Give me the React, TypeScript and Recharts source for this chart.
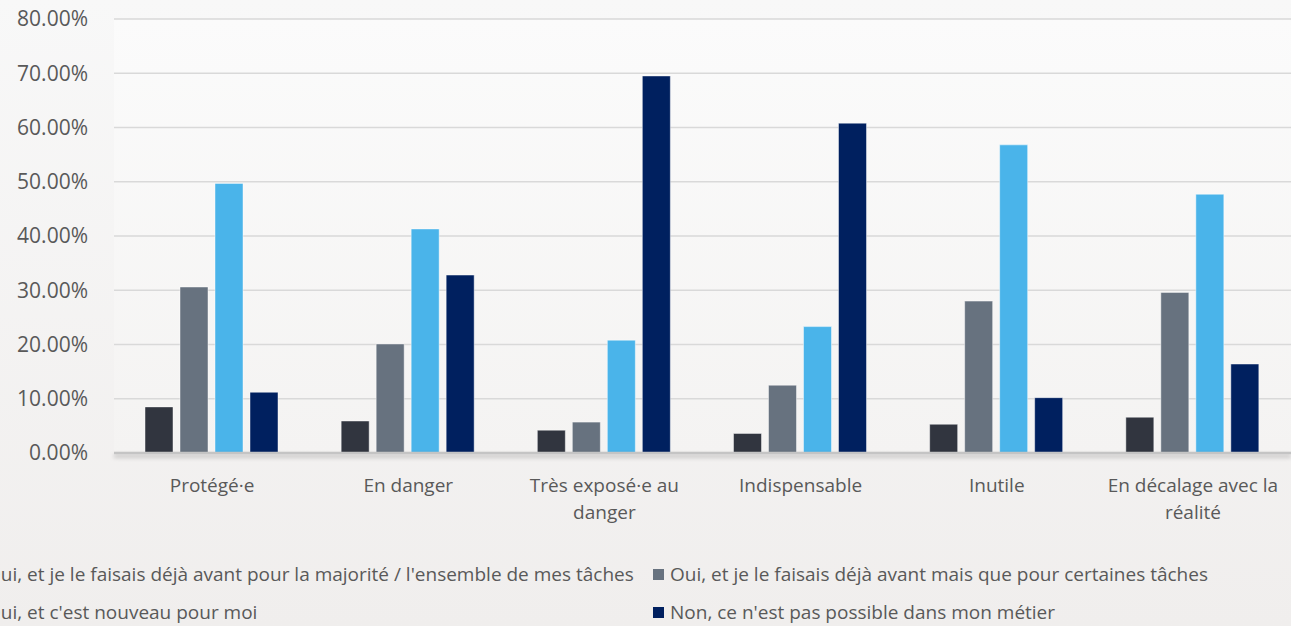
import { BarChart, Bar, XAxis, YAxis, CartesianGrid } from "recharts";

const categories = [
  "Protégé·e",
  "En danger",
  "Très exposé·e au danger",
  "Indispensable",
  "Inutile",
  "En décalage avec la réalité",
];

// libellés de l'axe, coupés comme sur l'original
const categoryLines: Record<string, string[]> = {
  "Très exposé·e au danger": ["Très exposé·e au", "danger"],
  "En décalage avec la réalité": ["En décalage avec la", "réalité"],
};

// valeurs en %
const majorite = [8.5, 5.9, 4.2, 3.6, 5.3, 6.6];
const certaines = [30.6, 20.1, 5.7, 12.5, 28.0, 29.6];
const nouveau = [49.7, 41.3, 20.8, 23.3, 56.8, 47.7];
const impossible = [11.2, 32.8, 69.5, 60.8, 10.2, 16.4];

const yTicks = [0, 10, 20, 30, 40, 50, 60, 70, 80];

const series = [
  { key: "majorite", name: "Oui, et je le faisais déjà avant pour la majorité / l'ensemble de mes tâches", color: "#31353f" },
  { key: "certaines", name: "Oui, et je le faisais déjà avant mais que pour certaines tâches", color: "#67727f" },
  { key: "nouveau", name: "Oui, et c'est nouveau pour moi", color: "#4ab4ea" },
  { key: "impossible", name: "Non, ce n'est pas possible dans mon métier", color: "#00205f" },
];

const data = categories.map((name, i) => ({
  name,
  majorite: majorite[i],
  certaines: certaines[i],
  nouveau: nouveau[i],
  impossible: impossible[i],
}));

const FONT = "'Open Sans', 'Noto Sans', sans-serif";

function CategoryTick(props: any) {
  const { x, y, payload } = props;
  const lines = categoryLines[payload.value] || [payload.value];
  return (
    <text
      x={x}
      y={y + 39}
      textAnchor="middle"
      fill="#595959"
      fontSize={19}
      fontFamily={FONT}
    >
      {lines.map((l, i) => (
        <tspan key={i} x={x} dy={i === 0 ? 0 : 27}>
          {l}
        </tspan>
      ))}
    </text>
  );
}

export default function App() {
  return (
    <div
      style={{
        position: "absolute",
        left: 0,
        top: 0,
        width: 1291,
        height: 626,
        overflow: "hidden",
        background: "linear-gradient(#f8f8f8, #f0eeed)",
        fontFamily: FONT,
      }}
    >
      <BarChart
        width={1291}
        height={626}
        data={data}
        margin={{ top: 19, right: 0, left: 0, bottom: 113 }}
        barCategoryGap={31}
        barGap={7}
      >
        <defs>
          <linearGradient id="plotBg" x1="0" y1="0" x2="0" y2="1">
            <stop offset="0%" stopColor="#fbfbfb" />
            <stop offset="100%" stopColor="#f4f3f2" />
          </linearGradient>
        </defs>
        <CartesianGrid
          vertical={false}
          stroke="#d9d9d9"
          strokeWidth={1.5}
          fill="url(#plotBg)"
          fillOpacity={1}
        />
        <XAxis
          dataKey="name"
          height={60}
          tickLine={false}
          tickSize={0}
          tickMargin={0}
          axisLine={{ stroke: "#c4c4c4", strokeWidth: 2.5, style: { filter: "drop-shadow(0px 3px 2px rgba(0,0,0,0.25))" } }}
          tick={<CategoryTick />}
          interval={0}
        />
        <YAxis
          width={114}
          domain={[0, 80]}
          ticks={yTicks}
          axisLine={false}
          tickLine={false}
          tickSize={6}
          tickMargin={20}
          tickFormatter={(v: number) => v.toFixed(2) + "%"}
          tick={{ fill: "#595959", fontSize: 21, fontFamily: FONT }}
        />
        {series.map((s) => (
          <Bar
            key={s.key}
            dataKey={s.key}
            name={s.name}
            fill={s.color}
            stroke="rgba(255,255,255,0.45)"
            strokeWidth={1}
            isAnimationActive={false}
          />
        ))}
      </BarChart>
      <div
        style={{
          position: "absolute",
          left: -31,
          top: 561,
          display: "grid",
          gridTemplateColumns: "684px 684px",
          rowGap: 12,
          color: "#595959",
          fontSize: 19,
          lineHeight: "26px",
          whiteSpace: "nowrap",
        }}
      >
        {series.map((s) => (
          <div key={s.key} style={{ display: "flex", alignItems: "center" }}>
            <span
              style={{
                display: "inline-block",
                width: 11,
                height: 11,
                background: s.color,
                marginRight: 6,
              }}
            />
            {s.name}
          </div>
        ))}
      </div>
    </div>
  );
}
